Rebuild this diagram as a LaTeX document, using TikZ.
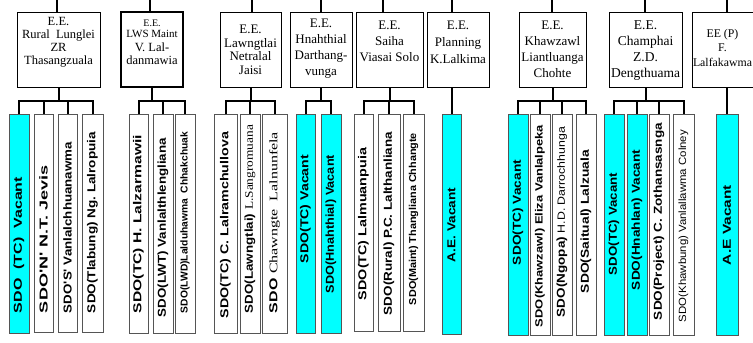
\documentclass[tikz,border=0pt]{standalone}
\usepackage{fontspec}
\setmainfont{Liberation Serif}
\newfontfamily\arial{Liberation Sans}
\usepackage{graphicx}
\definecolor{aqua}{RGB}{0,255,255}
\definecolor{sdoedge}{RGB}{85,85,85}
\newcommand\sdofont{\arial\bfseries\fontsize{11.5}{13}\selectfont}
\newcommand\sdosmall{\arial\bfseries\fontsize{10}{12}\selectfont}
\newcommand\sdomid{\arial\bfseries\fontsize{10.5}{12}\selectfont}
\newcommand\sdosmallreg{\arial\fontsize{10.5}{12}\selectfont}
\tikzset{
  topbox/.style={draw=black, line width=0.9pt, fill=white, inner sep=0pt, outer sep=0pt},
  sdobox/.style={draw=sdoedge, line width=0.9pt, inner sep=0pt, outer sep=0pt},
  sdotext/.style={rotate=90, inner sep=0pt},
  toptext/.style={align=center, inner sep=0pt},
  conn/.style={line width=2pt, line join=miter},
  feed/.style={line width=1.2pt},
}
\newcommand\tbox[4]{%
  \node[topbox,#4,minimum width={(#3-#2)*1pt},minimum height=75pt] (#1) at ({(#2+#3)/2},49.5) {};}
\newcommand\sdo[9]{%
  \node[sdobox,fill=#5,minimum width={(#3-#2)*1pt},minimum height={(#4-114)*1pt}] (#1) at ({(#2+#3)/2},{(114+#4)/2}) {};
  \pgfmathsetmacro\sdoL{#6-#7}%
  \node[sdotext,font=#8] (#1t) at ({(#2+#3)/2},{(#6+#7)/2}) {\resizebox{\sdoL pt}{\height}{#9}};%
}
\begin{document}
\begin{tikzpicture}[x=1pt,y=-1pt]
\useasboundingbox (0,0) rectangle (753,343);

% top boxes
\tbox{e1}{17}{100}{}
\tbox{e2}{121}{183}{line width=2pt}
\tbox{e3}{220}{281}{}
\tbox{e4}{290}{352}{}
\tbox{e5}{356}{423}{}
\tbox{e6}{427}{489}{}
\tbox{e7}{519}{586}{}
\tbox{e8}{609}{682}{}
\tbox{e9}{692}{756}{}

% feed lines
\foreach \n/\x in {1/57,2/150,3/252,4/321,5/383,6/452,7/552,8/645,9/727}{
  \coordinate (p\n) at (\x,0);
  \draw[feed] (p\n) -- (p\n |- e\n.north);
}

% top texts
\node[toptext,font={\fontsize{12.5}{13}\selectfont}] (e1t) at (58.5,42.5) {E.E.\\Rural\ \ Lunglei\\ZR\\Thasangzuala};
\node[toptext,font={\fontsize{11}{13}\selectfont}] (e2t) at (152,42.5) {{\fontsize{10}{11}\selectfont E.E.}\\[-2pt]LWS Maint\\[1pt]{\fontsize{12.5}{13}\selectfont V. Lal-}\\{\fontsize{12.5}{13}\selectfont danmawia}};
\node[toptext,font={\fontsize{13}{13.5}\selectfont}] (e3t) at (250.5,50) {E.E.\\Lawngtlai\\Netralal\\Jaisi};
\node[toptext,font={\fontsize{13}{16}\selectfont}] (e4t) at (321,49) {E.E.\\Hnahthial\\Darthang-\\vunga};
\node[toptext,font={\fontsize{13}{16}\selectfont}] (e5t) at (389.5,41) {E.E.\\Saiha\\Viasai Solo};
\node[toptext,font={\fontsize{13}{17}\selectfont}] (e6t) at (458,42.5) {E.E.\\Planning\\K.Lalkima};
\node[toptext,font={\fontsize{13}{16}\selectfont}] (e7t) at (552.5,49) {E.E.\\Khawzawl\\Liantluanga\\Chohte};
\node[toptext,font={\fontsize{13.5}{16.3}\selectfont}] (e8t) at (645.5,50.5) {E.E.\\Champhai\\Z.D.\\Dengthuama};
\node[toptext,font={\fontsize{11.8}{14.5}\selectfont}] (e9t) at (722.5,47.5) {EE (P)\\F.\\Lalfakawma};

% SDO boxes
\sdo{g1a}{9}{29}{333}{aqua}{313}{177}{\sdofont}{SDO\ \ (TC)\ \ Vacant}
\sdo{g1b}{34}{53}{332}{white}{313}{165}{\sdofont}{SDO\textquotesingle N\textquotesingle\ N.T.\ Jevis}
\sdo{g1c}{58}{77}{332}{white}{313}{142}{\sdofont}{SDO\textquotesingle S\textquotesingle\ Vanlalchhuanawma}
\sdo{g1d}{82}{103}{332}{white}{313}{132}{\sdofont}{SDO(Tlabung)\ Ng.\ Lalropuia}
\sdo{g2a}{129}{148}{333}{white}{313}{135}{\sdofont}{SDO(TC)\ H.\ Lalzarmawii}
\sdo{g2b}{153}{173}{333}{white}{317}{138}{\sdofont}{SDO(LWT)\ Vanlalthlengliana}
\sdo{g2c}{175}{195}{333}{white}{313}{132}{\sdosmall}{SDO(LWD)Lalduhawma\ \ Chhakchuak}
\sdo{g3a}{214}{237}{333}{white}{318}{132}{\sdofont}{SDO(TC)\ C.\ Lalramchullova}
\sdo{g3b}{240}{260}{333}{white}{313}{125}{\sdofont}{SDO(Lawngtlai)\ {\rmfamily\mdseries L.Sangromuana}}
\sdo{g3c}{262}{287}{333}{white}{313}{132}{\sdofont}{SDO\ {\rmfamily\mdseries Chawngte\ \ Lalnunfela}}
\sdo{g4a}{296}{315}{333}{aqua}{263}{155}{\sdofont}{SDO(TC)\ Vacant}
\sdo{g4b}{321}{341}{333}{aqua}{293}{155}{\sdofont}{SDO(Hnahthial)\ Vacant}
\sdo{g5a}{354}{373}{331}{white}{300}{148}{\sdofont}{SDO(TC)\ Lalmuanpuia}
\sdo{g5b}{378}{400}{331}{white}{315}{132}{\sdofont}{SDO(Rural)\ P.C.\ Lalthanliana}
\sdo{g5c}{403}{424}{331}{white}{305}{133}{\sdosmall}{SDO(Maint)\ Thangliana Chhangte}
\sdo{g6a}{442}{461}{334}{aqua}{262}{188}{\sdofont}{A.E.\ Vacant}
\sdo{g7a}{508}{528}{335}{aqua}{265}{160}{\sdofont}{SDO(TC)\ Vacant}
\sdo{g7b}{530}{550}{335}{white}{327}{125}{\sdomid}{SDO(Khawzawl)\ Eliza Vanlalpeka}
\sdo{g7c}{552}{572}{335}{white}{317}{127}{\sdofont}{SDO(Ngopa)\ {\mdseries\fontsize{10.5}{12}\selectfont H.D.\ Darrochhunga}}
\sdo{g7d}{576}{596}{335}{white}{293}{150}{\sdofont}{SDO(Saitual)\ Lalzuala}
\sdo{g8a}{604}{624}{335}{aqua}{275}{173}{\sdofont}{SDO(TC)\ Vacant}
\sdo{g8b}{627}{647}{335}{aqua}{290}{150}{\sdofont}{SDO(Hnahlan)\ Vacant}
\sdo{g8c}{649}{669}{335}{white}{320}{123}{\sdofont}{SDO(Project)\ C.\ Zothansasnga}
\sdo{g8d}{673}{694}{335}{white}{322}{130}{\sdosmallreg}{SDO(Khawbung)\ Vanlallawma Colney}
\sdo{g9a}{716}{738}{335}{aqua}{265}{185}{\sdofont}{A.E Vacant}

% connectors
\draw[conn] (e1.south) -- ++(0,14);
\draw[conn] (g1a.north) -- ++(0,-13) -| (g1d.north);
\draw[conn] (g1b.north) -- ++(0,-13);
\draw[conn] (g1c.north) -- ++(0,-13);

\draw[conn] (e2.south) -- ++(0,14);
\draw[conn] (g2a.north) -- ++(0,-13) -| (g2c.north);
\draw[conn] (g2b.north) -- ++(0,-13);

\draw[conn] (e3.south) -- ++(0,14);
\draw[conn] (g3a.north) -- ++(0,-13) -| (g3c.north);
\draw[conn] (g3b.north) -- ++(0,-13);

\draw[conn] (e4.south) -- ++(0,14);
\draw[conn] (g4a.north) -- ++(0,-13) -| (g4b.north);

\draw[conn] (e5.south) -- ++(0,14);
\draw[conn] (g5a.north) -- ++(0,-13) -| (g5c.north);
\draw[conn] (g5b.north) -- ++(0,-13);

\draw[conn] (g6a.north) -- (g6a.north |- e6.south);

\draw[conn] (e7.south) -- ++(0,14);
\draw[conn] (g7a.north) -- ++(0,-13) -| (g7d.north);
\draw[conn] (g7b.north) -- ++(0,-13);
\draw[conn] (g7c.north) -- ++(0,-13);

\draw[conn] (e8.south) -- ++(0,14);
\draw[conn] (g8a.north) -- ++(0,-13) -| (g8d.north);
\draw[conn] (g8b.north) -- ++(0,-13);
\draw[conn] (g8c.north) -- ++(0,-13);

\draw[conn] (g9a.north) -- (g9a.north |- e9.south);
\end{tikzpicture}
\end{document}
